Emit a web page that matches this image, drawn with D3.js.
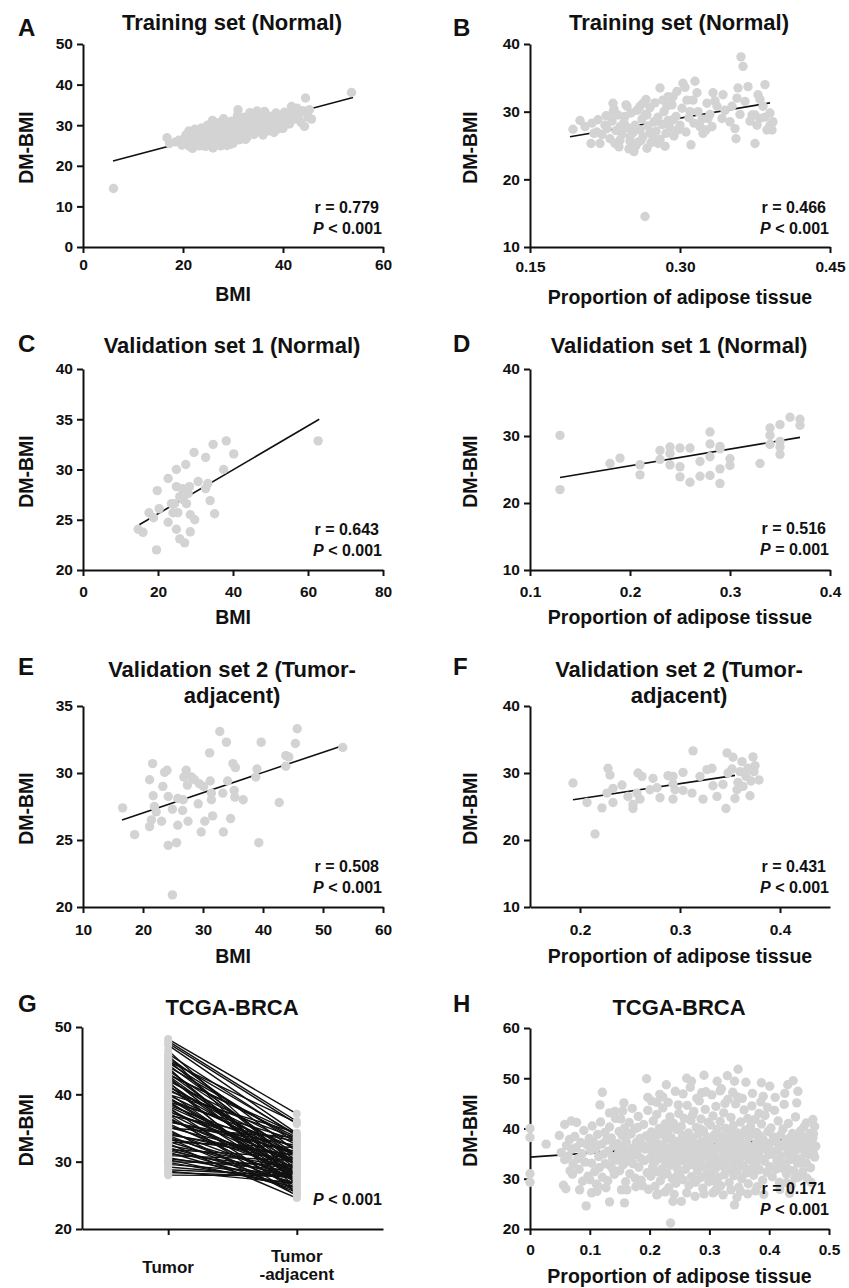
<!DOCTYPE html>
<html><head><meta charset="utf-8">
<script src="https://cdn.jsdelivr.net/npm/d3@7"></script>
<style>
body{margin:0;background:#fff}
svg text{font-family:"Liberation Sans",Arial,Helvetica,sans-serif;font-weight:bold;fill:#111}
</style></head>
<body><svg id="chart" width="849" height="1288"></svg>
<script>
// ---------------- DATA ----------------
const yLabel = "DM-BMI";
const bmiLabel = "BMI";
const adiposeLabel = "Proportion of adipose tissue";

// Panel A: Training set, BMI vs DM-BMI
const aTitle = ["Training set (Normal)"];
const aXTicks = [0,20,40,60];
const aYTicks = [0,10,20,30,40,50];
const aFit = [[6,21.2],[54,36.8]];
const aStats = ["r = 0.779","< 0.001"];
const aPoints = [[6.1,14.4],[53.7,38.05],[16.8,26.9],[17.3,25.5],[18.5,25.9],[19.2,26.3],[19.8,25.1],[20.3,26.8],[20.6,27.6],[21.0,25.6],[21.3,24.8],[21.5,28.1],[21.9,24.3],[22.0,26.2],[22.2,27.3],[22.4,29.0],[22.7,25.2],[22.9,28.4],[23.1,26.0],[23.3,24.9],[23.5,27.0],[23.7,29.3],[23.9,25.6],[24.1,28.0],[24.3,26.4],[24.5,24.8],[24.7,27.5],[24.9,30.0],[25.1,25.8],[25.3,28.8],[25.5,26.9],[25.7,25.0],[25.9,31.2],[26.1,27.9],[26.3,26.2],[26.5,29.4],[26.7,25.4],[26.9,28.3],[27.1,30.6],[27.3,26.8],[27.5,24.9],[27.7,29.0],[27.9,27.3],[28.1,31.6],[28.3,25.9],[28.5,28.5],[28.7,30.2],[28.9,26.5],[29.1,27.8],[29.3,29.7],[29.5,25.3],[29.7,31.0],[29.9,28.1],[30.1,26.9],[30.3,30.5],[30.5,27.6],[30.7,29.2],[30.9,32.4],[31.0,33.8],[31.2,26.4],[31.4,28.9],[31.6,30.9],[31.8,27.3],[32.0,29.9],[32.2,32.0],[32.4,28.2],[32.6,30.3],[32.8,27.0],[33.0,31.5],[33.2,29.0],[33.4,33.1],[33.6,28.0],[33.8,30.7],[34.0,32.6],[34.2,27.7],[34.4,29.6],[34.6,31.2],[34.8,33.5],[35.0,28.7],[35.2,30.2],[35.5,32.0],[35.8,29.1],[36.0,27.6],[36.2,31.0],[36.5,32.8],[36.8,30.0],[37.1,28.6],[37.4,31.6],[37.7,29.4],[38.0,32.3],[38.3,30.4],[38.6,33.0],[38.9,29.0],[39.2,31.3],[39.5,32.6],[39.8,30.1],[40.0,29.2],[40.3,33.2],[40.6,31.0],[41.0,32.2],[41.3,30.3],[41.7,34.6],[42.0,33.0],[42.4,31.5],[42.8,34.2],[43.2,32.4],[43.6,30.7],[44.0,33.6],[44.3,29.7],[44.5,36.7],[45.0,32.0],[45.3,33.8],[45.7,31.5],[26.0,24.4],[28.8,25.0],[30.0,25.5],[32.5,26.5],[25.0,27.1],[27.0,27.2],[29.0,28.8],[31.0,29.5],[33.0,30.0],[35.0,31.0],[27.4,28.4],[23.0,27.5],[21.2,28.6],[34.5,28.4],[37.0,30.9],[39.0,31.9],[41.5,32.8],[36.3,33.4],[38.2,28.2]];

// Panel B: Training set, adipose proportion vs DM-BMI
const bTitle = ["Training set (Normal)"];
const bXTicks = [0.15,0.30,0.45];
const bYTicks = [10,20,30,40];
const bFit = [[0.19,26.3],[0.39,31.3]];
const bStats = ["r = 0.466","< 0.001"];
const bPoints = [[0.193,27.4],[0.200,28.7],[0.212,28.3],[0.211,25.3],[0.220,25.3],[0.217,27.0],[0.225,28.0],[0.233,31.25],[0.233,29.9],[0.235,25.3],[0.240,27.8],[0.247,30.8],[0.245,29.3],[0.250,26.3],[0.254,24.1],[0.255,24.8],[0.260,30.8],[0.263,31.25],[0.265,14.5],[0.267,29.5],[0.270,27.0],[0.273,25.8],[0.278,25.3],[0.280,33.5],[0.283,31.7],[0.287,30.8],[0.288,32.2],[0.293,32.2],[0.293,28.8],[0.297,33.0],[0.298,27.3],[0.303,34.2],[0.305,33.6],[0.307,31.7],[0.310,30.0],[0.311,25.1],[0.313,31.7],[0.315,34.5],[0.317,32.8],[0.320,27.8],[0.323,26.8],[0.327,31.25],[0.328,29.0],[0.332,27.8],[0.333,32.8],[0.337,30.8],[0.342,29.0],[0.343,32.5],[0.352,30.8],[0.355,27.5],[0.356,26.0],[0.357,32.0],[0.358,33.5],[0.361,38.1],[0.363,36.7],[0.365,31.5],[0.368,33.7],[0.372,29.5],[0.375,25.3],[0.377,28.0],[0.378,32.5],[0.380,29.0],[0.383,30.8],[0.385,34.0],[0.387,27.3],[0.390,29.8],[0.392,27.3],[0.393,28.5],[0.222,26.6],[0.227,27.5],[0.230,26.0],[0.232,28.6],[0.236,27.2],[0.238,29.5],[0.240,25.8],[0.242,26.7],[0.244,28.4],[0.246,31.0],[0.248,27.6],[0.250,25.6],[0.251,29.8],[0.253,26.9],[0.255,28.0],[0.257,30.2],[0.258,25.5],[0.260,27.3],[0.262,28.9],[0.263,26.3],[0.265,29.6],[0.267,24.6],[0.268,27.9],[0.270,30.6],[0.272,26.6],[0.274,28.5],[0.276,27.1],[0.278,29.2],[0.280,25.9],[0.282,28.1],[0.284,30.0],[0.286,26.8],[0.288,28.7],[0.290,27.6],[0.292,31.0],[0.294,26.4],[0.296,29.3],[0.300,28.0],[0.302,30.5],[0.306,27.0],[0.309,29.1],[0.314,28.3],[0.318,30.0],[0.322,28.9],[0.326,27.3],[0.330,29.6],[0.335,31.6],[0.345,30.2],[0.350,28.5],[0.360,29.6],[0.370,28.6],[0.375,29.5],[0.380,31.8],[0.385,29.2],[0.390,28.0],[0.214,26.8],[0.218,28.8],[0.205,27.8],[0.226,29.4],[0.234,30.4],[0.239,24.8],[0.249,24.5],[0.256,25.0],[0.261,25.7],[0.266,31.8],[0.271,25.4],[0.275,31.3],[0.285,24.9]];

// Panel C: Validation set 1, BMI
const cTitle = ["Validation set 1 (Normal)"];
const cXTicks = [0,20,40,60,80];
const cYTicks = [20,25,30,35,40];
const cFit = [[15,24.5],[63,35.0]];
const cStats = ["r = 0.643","< 0.001"];
const cPoints = [[14.7,24.05],[16.0,23.75],[19.6,22.0],[19.8,27.9],[20.3,26.1],[17.6,25.7],[18.8,25.2],[22.7,29.1],[22.7,24.75],[23.6,26.6],[24.9,30.0],[24.9,28.3],[24.9,24.05],[24.0,25.7],[25.3,25.7],[25.8,23.1],[26.5,28.1],[26.7,27.0],[27.1,22.7],[27.4,30.5],[27.6,26.6],[28.0,27.6],[28.6,25.5],[28.6,23.8],[29.8,25.0],[29.6,31.7],[28.4,28.3],[30.7,28.8],[32.7,28.1],[32.7,31.2],[33.3,28.6],[33.9,26.9],[34.7,32.5],[35.1,25.6],[37.5,30.0],[38.2,32.85],[40.2,31.55],[62.7,32.85],[25.8,27.3],[24.4,26.6]];

// Panel D: Validation set 1, adipose
const dTitle = ["Validation set 1 (Normal)"];
const dXTicks = [0.1,0.2,0.3,0.4];
const dYTicks = [10,20,30,40];
const dFit = [[0.13,23.8],[0.37,29.8]];
const dStats = ["r = 0.516","= 0.001"];
const dPoints = [[0.13,30.1],[0.13,22.0],[0.18,25.9],[0.19,26.7],[0.21,25.7],[0.21,24.2],[0.23,27.85],[0.23,26.5],[0.24,28.35],[0.24,27.4],[0.24,25.7],[0.25,28.2],[0.25,25.4],[0.25,23.9],[0.26,28.2],[0.26,23.1],[0.27,26.2],[0.27,24.0],[0.28,30.6],[0.28,28.8],[0.28,26.9],[0.28,24.1],[0.29,28.45],[0.29,25.1],[0.29,22.9],[0.30,26.6],[0.30,25.6],[0.33,25.9],[0.34,31.2],[0.34,30.1],[0.34,28.75],[0.35,31.7],[0.35,29.2],[0.35,28.35],[0.35,27.25],[0.36,32.8],[0.37,32.5],[0.37,31.6],[0.29,28.1]];

// Panel E: Validation set 2, BMI
const eTitle = ["Validation set 2 (Tumor-","adjacent)"];
const eXTicks = [10,20,30,40,50,60];
const eYTicks = [20,25,30,35];
const eFit = [[16.5,26.5],[53,32.0]];
const eStats = ["r = 0.508","< 0.001"];
const ePoints = [[16.6,27.4],[18.6,25.4],[21.1,29.5],[21.6,30.7],[21.7,28.3],[21.9,27.5],[21.1,26.0],[21.4,26.5],[22.2,27.1],[23.1,26.4],[23.3,29.0],[23.6,30.05],[24.0,30.2],[24.2,28.25],[24.2,24.6],[24.9,27.3],[25.6,24.8],[24.9,20.9],[25.8,28.1],[25.8,26.1],[26.6,27.2],[26.8,29.7],[27.2,30.2],[27.4,29.1],[27.5,26.4],[28.1,29.7],[28.6,29.5],[29.2,27.7],[29.4,29.2],[29.7,25.6],[30.1,29.0],[30.3,26.4],[31.1,31.5],[31.2,29.4],[31.4,28.0],[31.4,28.5],[31.6,26.8],[32.8,33.1],[33.3,28.5],[33.4,25.6],[33.9,32.3],[34.1,29.4],[34.6,26.6],[35.0,30.7],[35.2,28.7],[35.3,28.2],[35.4,30.4],[36.7,28.0],[38.8,29.7],[39.0,30.3],[39.3,24.8],[39.7,32.3],[42.7,27.8],[43.8,30.5],[43.8,31.3],[44.3,31.2],[45.4,32.2],[45.7,33.3],[53.3,31.9],[26.7,28.0]];

// Panel F: Validation set 2, adipose
const fTitle = ["Validation set 2 (Tumor-","adjacent)"];
const fXTicks = [0.2,0.3,0.4];
const fYTicks = [10,20,30,40];
const fFit = [[0.193,26.0],[0.355,29.65]];
const fStats = ["r = 0.431","< 0.001"];
const fPoints = [[0.193,28.5],[0.207,25.6],[0.215,20.9],[0.222,24.8],[0.228,30.7],[0.230,29.7],[0.233,27.7],[0.233,25.6],[0.242,28.2],[0.248,26.5],[0.253,24.7],[0.257,27.0],[0.258,30.0],[0.260,26.1],[0.262,29.5],[0.270,27.5],[0.273,29.2],[0.277,27.8],[0.280,26.3],[0.288,29.6],[0.293,28.4],[0.293,26.1],[0.295,27.5],[0.303,30.1],[0.303,27.4],[0.312,27.0],[0.313,33.3],[0.320,29.5],[0.323,26.1],[0.327,30.5],[0.332,30.7],[0.333,28.1],[0.337,26.5],[0.343,28.3],[0.346,24.7],[0.347,33.0],[0.348,30.0],[0.352,30.6],[0.353,32.35],[0.355,26.2],[0.358,28.6],[0.360,30.2],[0.362,31.7],[0.363,28.0],[0.366,29.5],[0.368,30.7],[0.370,26.6],[0.371,28.8],[0.373,32.4],[0.374,30.2],[0.375,31.1],[0.379,28.95],[0.357,27.5],[0.293,29.5],[0.253,25.3],[0.227,27.0]];

// Panel G: TCGA-BRCA paired values
const gTitle = ["TCGA-BRCA"];
const gCategories = ["Tumor","Tumor-adjacent"];
const gCategoryLabels = [["Tumor"],["Tumor","-adjacent"]];
const gYTicks = [20,30,40,50];
const gStats = ["< 0.001"];
const gTumor = [48.2,47.9,47.6,47.3,46.0,45.6,45.2,45.0,44.7,44.4,44.1,43.8,43.5,43.2,42.9,42.6,42.3,42.0,41.7,41.4,41.1,40.8,40.5,40.2,39.9,39.6,39.3,39.0,38.7,38.4,38.1,37.8,37.5,37.2,36.9,36.6,36.3,36.0,35.7,35.4,35.1,34.8,34.5,34.2,33.9,33.6,33.3,33.0,32.7,32.4,32.1,31.8,31.6,31.4,31.2,30.6,30.3,30.0,29.6,29.2,28.8,28.4,28.0,46.5,45.8,44.9,43.0,41.9,40.0,38.9,37.0,35.9,34.0,32.9,31.9,30.9,29.9,42.8,39.4,36.4,33.5,37.4,44.0,41.2,38.2,35.0,30.4,28.6];
const gAdjacent = [37.1,36.0,35.6,34.2,33.8,31.5,34.0,29.6,32.8,30.5,33.2,28.0,31.0,29.3,34.1,27.5,30.2,32.5,28.6,26.2,31.8,29.8,33.5,27.2,30.8,28.2,32.0,26.8,29.5,31.2,25.5,28.8,30.0,27.8,33.0,26.0,29.0,31.5,27.0,28.5,30.3,25.0,27.5,29.8,26.5,28.0,31.0,27.3,24.6,29.0,26.8,30.6,27.9,25.8,28.9,27.4,26.2,29.5,28.1,27.6,27.9,27.7,27.9,29.2,26.8,35.8,33.6,25.2,34.3,33.2,24.9,32.4,30.9,32.1,26.0,30.2,26.6,28.9,27.9,28.2,25.4,31.0,26.6,30.9,29.7,33.6,28.6,26.8];

// Panel H: TCGA-BRCA, adipose
const hTitle = ["TCGA-BRCA"];
const hXTicks = [0,0.1,0.2,0.3,0.4,0.5];
const hYTicks = [20,30,40,50,60];
const hFit = [[0,34.3],[0.47,38.2]];
const hStats = ["r = 0.171","< 0.001"];
const hPoints = [[0,40.0],[0,38.2],[0,31.0],[0,29.3],[0.027,36.9],[0.049,38.6],[0.056,28.7],[0.058,40.8],[0.060,28.0],[0.069,41.5],[0.078,41.2],[0.067,31.6],[0.083,27.8],[0.094,24.6],[0.100,29.8],[0.103,27.2],[0.114,28.5],[0.117,44.7],[0.121,47.2],[0.133,25.4],[0.133,43.1],[0.142,43.4],[0.152,41.9],[0.157,45.1],[0.158,25.2],[0.153,27.8],[0.195,49.9],[0.197,46.2],[0.212,26.8],[0.212,45.2],[0.222,46.3],[0.228,48.7],[0.235,21.2],[0.239,25.5],[0.253,25.5],[0.248,44.7],[0.262,50.0],[0.270,49.4],[0.291,50.6],[0.287,47.1],[0.306,27.2],[0.313,49.4],[0.320,47.9],[0.330,50.5],[0.342,49.4],[0.348,51.8],[0.361,49.2],[0.342,24.8],[0.352,27.5],[0.387,49.1],[0.401,48.4],[0.390,46.4],[0.431,48.7],[0.440,49.5],[0.448,47.4],[0.433,31.8],[0.451,33.1],[0.473,41.8],[0.476,40.4],[0.462,41.1],[0.473,38.1],[0.474,35.0],[0.443,30.1],[0.429,29.2],
[0.052,35.2],[0.058,33.8],[0.061,36.6],[0.064,34.5],[0.066,37.8],[0.070,35.9],[0.072,33.0],[0.075,38.4],[0.077,36.2],[0.080,34.0],[0.082,31.9],[0.085,37.2],[0.087,35.0],[0.090,39.6],[0.092,33.3],[0.095,36.8],[0.097,30.5],[0.099,38.0],[0.088,29.5],[0.071,30.9],
[0.101,35.6],[0.103,33.1],[0.104,40.5],[0.106,37.3],[0.108,31.4],[0.110,36.0],[0.111,28.9],[0.113,38.8],[0.115,34.4],[0.116,32.2],[0.118,41.3],[0.120,36.9],[0.121,30.3],[0.123,34.9],[0.125,39.2],[0.126,33.0],[0.128,37.7],[0.130,29.6],[0.131,35.5],[0.133,40.3],[0.135,32.5],[0.136,38.1],[0.138,34.2],[0.140,36.6],[0.141,30.9],[0.143,42.0],[0.145,33.7],[0.146,37.0],[0.148,35.1],[0.149,39.4],[0.112,27.5],[0.127,28.2],[0.139,31.8],
[0.150,31.6],[0.151,36.3],[0.153,34.0],[0.154,38.6],[0.156,32.8],[0.157,35.7],[0.158,40.1],[0.160,29.4],[0.161,37.4],[0.163,33.5],[0.164,35.0],[0.166,41.2],[0.167,31.0],[0.169,38.9],[0.170,36.1],[0.172,33.0],[0.173,34.7],[0.175,39.9],[0.176,30.1],[0.178,37.2],[0.179,35.4],[0.181,42.4],[0.182,32.3],[0.184,38.0],[0.185,34.1],[0.187,36.8],[0.188,28.6],[0.190,40.8],[0.191,33.6],[0.193,35.9],[0.194,38.5],[0.196,31.2],[0.197,43.6],[0.199,36.4],[0.155,43.5],[0.171,44.0],[0.186,29.7],[0.162,27.8],[0.177,28.4],[0.198,27.9],[0.165,39.0],[0.180,40.2],
[0.200,34.0],[0.201,37.6],[0.202,30.5],[0.203,39.3],[0.204,35.5],[0.205,32.3],[0.206,41.5],[0.207,36.9],[0.208,33.2],[0.209,28.5],[0.210,38.4],[0.211,35.0],[0.212,42.8],[0.213,31.4],[0.214,37.0],[0.215,33.9],[0.216,40.0],[0.217,36.2],[0.218,29.6],[0.219,34.6],[0.220,38.9],[0.221,32.0],[0.222,44.1],[0.223,36.6],[0.224,30.8],[0.225,35.3],[0.226,40.9],[0.227,33.4],[0.228,37.9],[0.229,31.1],[0.230,34.9],[0.231,39.6],[0.232,28.2],[0.233,36.0],[0.234,42.3],[0.235,32.7],[0.236,38.2],[0.237,34.3],[0.238,30.0],[0.239,36.8],[0.240,41.0],[0.241,33.1],[0.242,37.4],[0.243,35.6],[0.244,29.1],[0.245,39.8],[0.246,32.1],[0.247,36.3],[0.248,34.0],[0.249,43.0],[0.203,45.5],[0.217,46.8],[0.231,45.2],[0.243,47.4],[0.214,27.0],[0.226,27.4],[0.241,26.9],[0.246,30.6],
[0.250,37.5],[0.251,31.3],[0.252,35.2],[0.253,40.4],[0.254,33.6],[0.255,38.6],[0.256,29.8],[0.257,36.1],[0.258,42.0],[0.259,34.4],[0.260,31.9],[0.261,37.8],[0.262,35.3],[0.263,44.6],[0.264,32.6],[0.265,39.1],[0.266,28.7],[0.267,36.5],[0.268,33.9],[0.269,41.6],[0.270,30.4],[0.271,38.0],[0.272,35.7],[0.273,32.8],[0.274,43.4],[0.275,37.1],[0.276,34.6],[0.277,29.3],[0.278,40.2],[0.279,36.7],[0.280,31.6],[0.281,38.9],[0.282,33.3],[0.283,45.5],[0.284,35.8],[0.285,30.2],[0.286,41.9],[0.287,37.3],[0.288,34.2],[0.289,28.1],[0.290,39.5],[0.291,32.4],[0.292,36.4],[0.293,43.8],[0.294,34.8],[0.295,30.9],[0.296,38.3],[0.297,35.0],[0.298,41.2],[0.299,32.9],[0.256,46.9],[0.268,48.2],[0.279,46.0],[0.294,47.3],[0.262,27.2],[0.276,26.5],[0.291,27.0],[0.299,29.4],[0.272,42.7],[0.285,39.9],
[0.300,36.8],[0.301,33.7],[0.302,40.7],[0.303,31.2],[0.304,37.9],[0.305,35.4],[0.306,42.5],[0.307,29.6],[0.308,38.7],[0.309,34.5],[0.310,32.0],[0.311,44.4],[0.312,36.2],[0.313,39.8],[0.314,33.0],[0.315,30.3],[0.316,37.5],[0.317,35.9],[0.318,41.4],[0.319,28.6],[0.320,34.1],[0.321,38.4],[0.322,32.5],[0.323,36.9],[0.324,43.1],[0.325,30.8],[0.326,35.5],[0.327,40.0],[0.328,33.6],[0.329,37.7],[0.330,31.7],[0.331,45.8],[0.332,36.3],[0.333,29.2],[0.334,39.3],[0.335,34.3],[0.336,42.2],[0.337,32.2],[0.338,37.2],[0.339,35.0],[0.340,40.6],[0.341,30.6],[0.342,38.1],[0.343,33.4],[0.344,44.9],[0.345,36.0],[0.346,31.5],[0.347,39.1],[0.348,34.7],[0.349,28.3],[0.304,46.7],[0.318,47.5],[0.326,45.0],[0.339,47.2],[0.347,46.3],[0.309,27.5],[0.323,26.8],[0.336,27.8],[0.346,26.3],[0.312,28.0],
[0.350,37.6],[0.351,33.1],[0.352,41.3],[0.353,35.3],[0.354,30.0],[0.355,38.8],[0.356,36.5],[0.357,32.6],[0.358,43.7],[0.359,34.5],[0.360,39.7],[0.361,31.1],[0.362,37.0],[0.363,35.1],[0.364,42.0],[0.365,29.0],[0.366,38.2],[0.367,33.8],[0.368,36.3],[0.369,40.4],[0.370,32.0],[0.371,44.5],[0.372,35.6],[0.373,38.9],[0.374,30.7],[0.375,34.2],[0.376,41.8],[0.377,36.8],[0.378,33.0],[0.379,39.2],[0.380,28.4],[0.381,37.4],[0.382,35.0],[0.383,43.0],[0.384,31.8],[0.385,38.5],[0.386,34.0],[0.387,40.9],[0.388,36.1],[0.389,29.7],[0.390,37.8],[0.392,33.5],[0.393,42.6],[0.395,35.8],[0.396,31.3],[0.398,39.4],[0.399,34.8],[0.355,46.0],[0.372,47.0],[0.386,45.3],[0.364,27.0],[0.377,27.6],[0.391,26.9],[0.397,44.2],
[0.400,36.9],[0.401,32.4],[0.403,40.1],[0.404,34.9],[0.405,30.4],[0.407,38.3],[0.408,35.4],[0.409,43.6],[0.411,31.9],[0.412,37.3],[0.413,33.6],[0.415,41.5],[0.416,36.0],[0.417,29.3],[0.419,38.7],[0.420,34.4],[0.421,32.1],[0.423,39.9],[0.424,36.6],[0.425,44.8],[0.427,33.0],[0.428,37.6],[0.429,30.9],[0.431,35.2],[0.432,41.0],[0.433,38.0],[0.435,33.8],[0.436,36.4],[0.437,28.7],[0.439,39.0],[0.440,34.6],[0.441,31.6],[0.443,37.2],[0.444,42.3],[0.445,35.7],[0.447,33.2],[0.448,38.6],[0.449,30.3],[0.410,46.2],[0.426,47.0],[0.418,27.9],[0.434,27.1],[0.446,45.1],
[0.450,36.1],[0.452,39.5],[0.453,34.0],[0.455,37.0],[0.456,31.4],[0.458,40.3],[0.459,35.5],[0.461,38.2],[0.462,33.1],[0.464,36.7],[0.466,34.8],[0.468,39.0],[0.469,32.2],[0.471,37.5],[0.473,35.9],[0.474,38.9],[0.476,34.3],[0.478,36.5],[0.463,30.1],[0.470,29.3]];

// ---------------- DRAWING ----------------
const svg = d3.select("#chart");
const DOT = "#d3d3d3";
const R = 4.7;
const FS = {letter:24, title:22, tick:15.5, axis:19.5, stat:16};

function styleAxis(g){
  g.attr("font-size", null).attr("font-family", null);
  g.select(".domain").attr("stroke","#111").attr("stroke-width",2);
  g.selectAll(".tick line").attr("stroke","#111").attr("stroke-width",2);
  g.selectAll(".tick text").attr("fill","#111").style("font-size", FS.tick+"px");
}

function frame(L){
  svg.append("text").attr("x", L.letterX).attr("y", L.letterY).style("font-size", FS.letter+"px").text(L.letter);
  const t = svg.append("text").attr("text-anchor","middle").style("font-size", FS.title+"px");
  L.title.forEach((s,i)=> t.append("tspan").attr("x", L.titleX).attr("y", L.titleY + i*26).text(s));
  const ym = (L.yt + L.yb)/2 + 2;
  svg.append("text").attr("transform", `translate(${L.yTitleX},${ym}) rotate(-90)`)
    .attr("text-anchor","middle").attr("dy","0.35em").style("font-size", FS.axis+"px").text(yLabel);
}

function stats(L, lines){
  lines.forEach((s,i)=>{
    const isP = i === lines.length-1;
    const yy = lines.length===1 ? L.statY : L.statY + i*21;
    const t = svg.append("text").attr("text-anchor","end")
      .attr("x", isP ? L.statX + 3 : L.statX).attr("y", yy)
      .style("font-size", FS.stat+"px");
    if (isP){
      t.append("tspan").style("font-style","italic").text("P");
      t.append("tspan").text(" " + s);
    } else t.text(s);
  });
}

function scatter(L, pts, fit, st){
  frame(L);
  const x = d3.scaleLinear().domain(L.xd).range([L.x0, L.x1]);
  const y = d3.scaleLinear().domain(L.yd).range([L.yb, L.yt]);
  const gx = svg.append("g").attr("transform",`translate(0,${L.yb})`)
    .call(d3.axisBottom(x).tickValues(L.xt).tickFormat(L.xf).tickSize(6).tickSizeOuter(0));
  styleAxis(gx);
  gx.selectAll(".tick text").attr("y", L.xlo).attr("dy", 0);
  const gy = svg.append("g").attr("transform",`translate(${L.x0},0)`)
    .call(d3.axisLeft(y).tickValues(L.yti).tickFormat(d3.format("d")).tickSize(6).tickSizeOuter(0).tickPadding(4));
  styleAxis(gy);
  svg.append("text").attr("x",(L.x0+L.x1)/2).attr("y",L.xTitleY).attr("text-anchor","middle")
    .style("font-size", FS.axis+"px").text(L.xTitle);
  svg.append("line").attr("x1",x(fit[0][0])).attr("y1",y(fit[0][1])).attr("x2",x(fit[1][0])).attr("y2",y(fit[1][1]))
    .attr("stroke","#111").attr("stroke-width",1.6);
  svg.append("g").selectAll("circle").data(pts).join("circle")
    .attr("cx", d=>x(d[0])).attr("cy", d=>y(d[1])).attr("r", R).attr("fill", DOT);
  stats(L, st);
}

const fmt2 = d3.format(".2f"), fmt1 = d3.format(".1f"), fmtd = d3.format("d");
const colL = {x0:83, x1:383, letterX:18, titleX:232, yTitleX:26, statX:379};
const colR = {x0:530, x1:830, letterX:453, titleX:679, yTitleX:470, statX:826};

scatter(Object.assign({}, colL, {letter:"A", letterY:36, title:aTitle, titleY:30, yt:44, yb:247, xd:[0,60], yd:[0,50], xt:aXTicks, yti:aYTicks, xf:fmtd, xlo:23, xTitle:bmiLabel, xTitleY:301, statY:213}), aPoints, aFit, aStats);
scatter(Object.assign({}, colR, {letter:"B", letterY:36, title:bTitle, titleY:30, yt:44, yb:247, xd:[0.15,0.45], yd:[10,40], xt:bXTicks, yti:bYTicks, xf:fmt2, xlo:25, xTitle:adiposeLabel, xTitleY:304, statY:213}), bPoints, bFit, bStats);
scatter(Object.assign({}, colL, {letter:"C", letterY:352, title:cTitle, titleY:353, yt:369, yb:570, xd:[0,80], yd:[20,40], xt:cXTicks, yti:cYTicks, xf:fmtd, xlo:27, xTitle:bmiLabel, xTitleY:624, statY:535}), cPoints, cFit, cStats);
scatter(Object.assign({}, colR, {letter:"D", letterY:352, title:dTitle, titleY:353, yt:369, yb:570, xd:[0.1,0.4], yd:[10,40], xt:dXTicks, yti:dYTicks, xf:fmt1, xlo:27, xTitle:adiposeLabel, xTitleY:624, statY:534}), dPoints, dFit, dStats);
scatter(Object.assign({}, colL, {letter:"E", letterY:675, title:eTitle, titleY:677, yt:706, yb:907, xd:[10,60], yd:[20,35], xt:eXTicks, yti:eYTicks, xf:fmtd, xlo:28, xTitle:bmiLabel, xTitleY:963, statY:872}), ePoints, eFit, eStats);
scatter(Object.assign({}, colR, {letter:"F", letterY:675, title:fTitle, titleY:677, yt:706, yb:907, xd:[0.15,0.45], yd:[10,40], xt:fXTicks, yti:fYTicks, xf:fmt1, xlo:28, xTitle:adiposeLabel, xTitleY:963, statY:872}), fPoints, fFit, fStats);
scatter(Object.assign({}, colR, {x1:829, letter:"H", letterY:1012, title:hTitle, titleY:1015, yt:1028, yb:1229, xd:[0,0.5], yd:[20,60], xt:hXTicks, yti:hYTicks, xf:d=> d===0?"0":fmt1(d), xlo:26, xTitle:adiposeLabel, xTitleY:1283, statY:1194}), hPoints, hFit, hStats);

// Panel G: paired before-after plot
(function(){
  const L = Object.assign({}, colL, {x0:82, letter:"G", letterY:1012, title:gTitle, titleY:1015, yt:1027, yb:1229, statY:1205});
  frame(L);
  const x = d3.scalePoint().domain(gCategories).range([L.x0, L.x1]).padding(0.67);
  const y = d3.scaleLinear().domain([20,50]).range([L.yb, L.yt]);
  const gx = svg.append("g").attr("transform",`translate(0,${L.yb})`)
    .call(d3.axisBottom(x).tickFormat("").tickSize(6).tickSizeOuter(0));
  styleAxis(gx);
  const gy = svg.append("g").attr("transform",`translate(${L.x0},0)`)
    .call(d3.axisLeft(y).tickValues(gYTicks).tickFormat(d3.format("d")).tickSize(6).tickSizeOuter(0).tickPadding(4));
  styleAxis(gy);
  gCategoryLabels.forEach((lines,i)=>{
    const t = svg.append("text").attr("text-anchor","middle").style("font-size","17px");
    const base = lines.length===1 ? 1273 : 1262;
    lines.forEach((s,j)=> t.append("tspan").attr("x", x(gCategories[i])).attr("y", base + j*18).text(s));
  });
  const pairs = gTumor.map((v,i)=>[v, gAdjacent[i]]);
  svg.append("g").selectAll("line").data(pairs).join("line")
    .attr("x1", x(gCategories[0])).attr("y1", d=>y(d[0]))
    .attr("x2", x(gCategories[1])).attr("y2", d=>y(d[1]))
    .attr("stroke","#111").attr("stroke-width",1.4);
  svg.append("g").selectAll("circle").data(gTumor).join("circle")
    .attr("cx", x(gCategories[0])).attr("cy", d=>y(d)).attr("r",4).attr("fill",DOT);
  svg.append("g").selectAll("circle").data(gAdjacent).join("circle")
    .attr("cx", x(gCategories[1])).attr("cy", d=>y(d)).attr("r",4).attr("fill",DOT);
  stats(Object.assign({}, L, {statX:379}), gStats);
})();
</script></body></html>
